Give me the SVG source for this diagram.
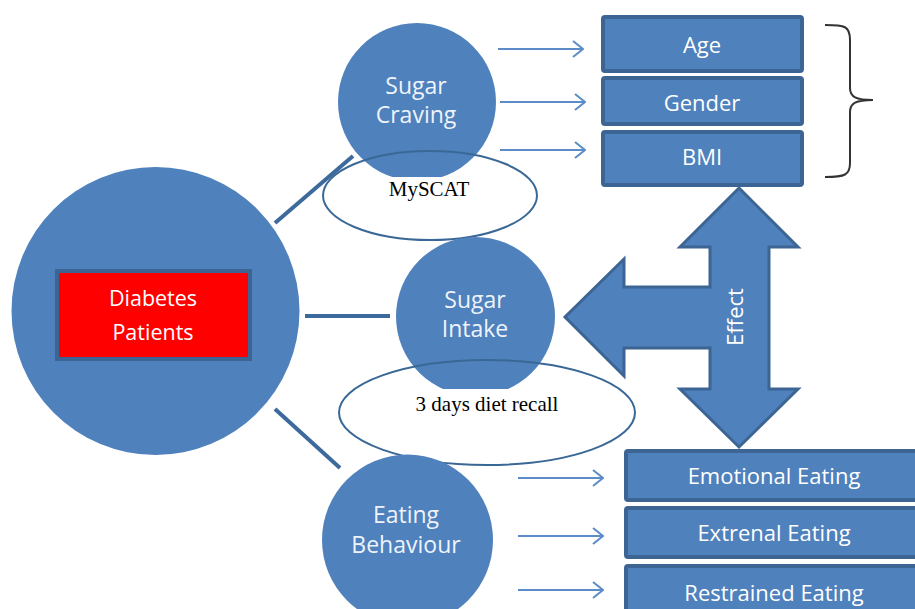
<svg xmlns="http://www.w3.org/2000/svg" width="915" height="609" viewBox="0 0 915 609">
<defs>
<style>
.circ{fill:#4f81bd;}
.box{fill:#4f81bd;stroke:#3c6594;stroke-width:4;}
.lbl{font-family:"Open Sans","Liberation Sans",sans-serif;font-size:22px;fill:#ffffff;text-anchor:middle;}
.dlbl{font-family:"Open Sans","Liberation Sans",sans-serif;font-size:21.5px;fill:#ffffff;text-anchor:middle;}
.clbl{font-family:"Open Sans","Liberation Sans",sans-serif;font-size:23px;fill:#eef3fa;text-anchor:middle;}
.note{font-family:"Liberation Serif",serif;font-size:21px;fill:#000;text-anchor:middle;}
.oval{fill:none;stroke:#3a6896;stroke-width:2;}
.link{stroke:#3c6a9c;stroke-width:4;fill:none;}
.arr{stroke:#5b8cc8;stroke-width:2;fill:none;}
</style>
<marker id="open" viewBox="0 0 12 18" refX="11" refY="9" markerWidth="12" markerHeight="18" markerUnits="userSpaceOnUse" orient="auto">
<path d="M1,1 L11,9 L1,17" fill="none" stroke="#5b8cc8" stroke-width="2"/>
</marker>
</defs>
<rect width="915" height="609" fill="#ffffff"/>

<g id="connectors">
<line class="link" x1="275" y1="223" x2="353" y2="156"/>
<line class="link" x1="305" y1="316" x2="390" y2="316"/>
<line class="link" x1="275" y1="409" x2="340" y2="468"/>
<line class="arr" x1="498" y1="49" x2="583" y2="49" marker-end="url(#open)"/>
<line class="arr" x1="500" y1="102" x2="585" y2="102" marker-end="url(#open)"/>
<line class="arr" x1="500" y1="150" x2="585" y2="150" marker-end="url(#open)"/>
<line class="arr" x1="518" y1="478" x2="603" y2="478" marker-end="url(#open)"/>
<line class="arr" x1="518" y1="536" x2="603" y2="536" marker-end="url(#open)"/>
<line class="arr" x1="518" y1="590" x2="603" y2="590" marker-end="url(#open)"/>
</g>

<g id="diabetes">
<circle class="circ" cx="155.5" cy="311" r="144"/>
<rect x="57" y="271" width="193" height="88" fill="#ff0000" stroke="#3c6594" stroke-width="4"/>
<text class="dlbl" x="153" y="306">Diabetes</text>
<text class="dlbl" x="153" y="340">Patients</text>
</g>

<g id="sugar-craving">
<circle class="circ" cx="417" cy="102" r="79"/>
<text class="clbl" x="416" y="94">Sugar</text>
<text class="clbl" x="416" y="123">Craving</text>
</g>

<g id="myscat">
<ellipse class="oval" cx="430" cy="195.5" rx="107" ry="44.5"/>
<rect x="345" y="177" width="170" height="36" fill="#ffffff"/>
<text class="note" x="429" y="196">MySCAT</text>
</g>

<g id="sugar-intake">
<circle class="circ" cx="475.5" cy="316.5" r="79.5"/>
<text class="clbl" x="475" y="308">Sugar</text>
<text class="clbl" x="475" y="337">Intake</text>
</g>

<g id="diet-recall">
<ellipse class="oval" cx="487" cy="412.5" rx="148" ry="52.5"/>
<rect x="370" y="389" width="235" height="36" fill="#ffffff"/>
<text class="note" x="487" y="411">3 days diet recall</text>
</g>

<g id="eating-behaviour">
<circle class="circ" cx="407.5" cy="540" r="85.5"/>
<text class="clbl" x="406" y="523">Eating</text>
<text class="clbl" x="406" y="553">Behaviour</text>
</g>

<g id="age">
<rect class="box" x="603" y="17" width="199" height="54" rx="2"/>
<text class="lbl" x="702" y="53">Age</text>
</g>
<g id="gender">
<rect class="box" x="603" y="78" width="199" height="46" rx="2"/>
<text class="lbl" x="702" y="111">Gender</text>
</g>
<g id="bmi">
<rect class="box" x="603" y="132" width="199" height="53" rx="2"/>
<text class="lbl" x="702" y="165">BMI</text>
</g>

<g id="brace">
<path d="M825,25 C845,25 850,26 850,40 L850,88 C850,97 856,100 873,100 C856,100 850,103 850,112 L850,163 C850,175 845,177 825,177" fill="none" stroke="#333333" stroke-width="2"/>
</g>

<g id="effect">
<path d="M739,188 L798,247 L769,247 L769,389 L798,389 L739,447 L680,389 L710,389 L710,348 L624,348 L624,376 L565,317 L624,259 L624,287 L710,287 L710,247 L680,247 Z" fill="#4f81bd" stroke="#3c6594" stroke-width="3" stroke-linejoin="miter"/>
<text class="lbl" x="0" y="0" transform="translate(743,317) rotate(-90)">Effect</text>
</g>

<g id="emotional">
<rect class="box" x="626" y="451" width="295" height="49" rx="2"/>
<text class="lbl" x="774" y="484">Emotional Eating</text>
</g>
<g id="external">
<rect class="box" x="626" y="508" width="295" height="49" rx="2"/>
<text class="lbl" x="774" y="541">Extrenal Eating</text>
</g>
<g id="restrained">
<rect class="box" x="626" y="566" width="295" height="49" rx="2"/>
<text class="lbl" x="774" y="601">Restrained Eating</text>
</g>
</svg>
